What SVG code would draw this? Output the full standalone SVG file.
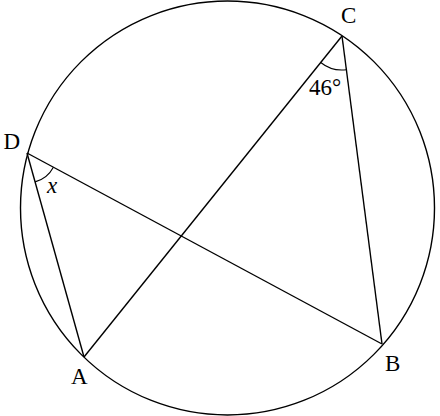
<svg xmlns="http://www.w3.org/2000/svg" width="440" height="416" viewBox="0 0 440 416">
<style>
.s{fill:none;stroke:#000;stroke-width:1.4}
.a{fill:none;stroke:#000;stroke-width:1.1}
.t{font-family:"Liberation Serif","DejaVu Serif",serif;font-size:23px;fill:#000}
</style>
<rect width="440" height="416" fill="#fff"/>
<g id="circle"><circle class="s" cx="227.5" cy="208" r="207"/></g>
<g id="connectors">
<line class="s" x1="27" y1="153" x2="382" y2="344"/>
<line class="s" x1="342" y1="36" x2="84" y2="357"/>
<line class="s" x1="27" y1="153" x2="84" y2="357"/>
<line class="s" x1="342" y1="36" x2="382" y2="344"/>
<path class="a" d="M35.1,181.9 A30,30 0 0 0 53.4,167.2"/>
<path class="a" d="M320.7,62.5 A34,34 0 0 0 346.4,69.7"/>
</g>
<g id="D"><text class="t" x="3.5" y="149">D</text></g>
<g id="C"><text class="t" x="341" y="23">C</text></g>
<g id="A"><text class="t" x="71" y="384">A</text></g>
<g id="B"><text class="t" x="385" y="371">B</text></g>
<g id="angleC"><text class="t" x="309" y="95">46°</text></g>
<g id="angleD"><text class="t" x="47" y="193" font-style="italic">x</text></g>
</svg>
